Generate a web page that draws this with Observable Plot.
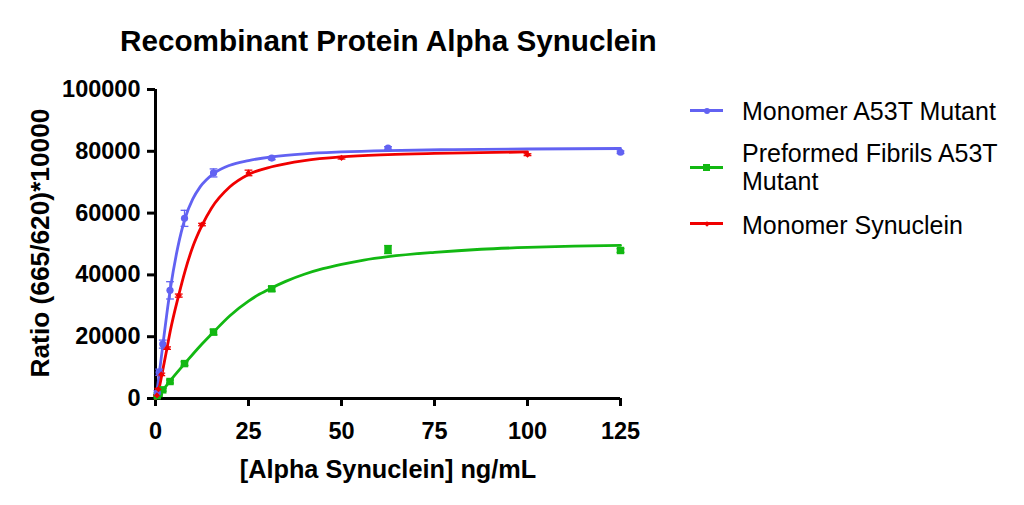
<!DOCTYPE html>
<html><head><meta charset="utf-8">
<script src="https://cdn.jsdelivr.net/npm/d3@7"></script>
<script src="https://cdn.jsdelivr.net/npm/@observablehq/plot@0.6"></script>
<style>
body{margin:0;background:#fff;}
#wrap{position:relative;width:1024px;height:505px;font-family:"Liberation Sans",Arial,sans-serif;color:#000;overflow:hidden;}
#chart{position:absolute;left:0;top:0;}
.t{position:absolute;white-space:nowrap;}
#title{left:120px;top:26px;font-size:29.7px;line-height:29.7px;font-weight:bold;}
#xlab{left:238px;top:457px;font-size:25.3px;line-height:25px;font-weight:bold;width:300px;text-align:center;}
#ylab{left:40px;top:243px;font-size:26.3px;line-height:26px;font-weight:bold;transform:translate(-50%,-50%) rotate(-90deg);}
.leg{position:absolute;left:742px;font-size:25px;line-height:28.5px;}
.sw{position:absolute;left:690px;width:33px;height:3px;}
.mk{position:absolute;}
</style></head><body>
<div id="wrap">
<div id="chart"></div>
<div class="t" id="title">Recombinant Protein Alpha Synuclein</div>
<div class="t" id="xlab">[Alpha Synuclein] ng/mL</div>
<div class="t" id="ylab">Ratio (665/620)*10000</div>
<div id="legend"></div>
</div>
<script>
// ---- data ----
const seriesNames = ["Monomer A53T Mutant", "Preformed Fibrils A53T Mutant", "Monomer Synuclein"];
const seriesColors = ["#6262f2", "#12b812", "#f00000"];

const blueX = [0.49, 0.98, 1.95, 3.9, 7.8, 15.6, 31.25, 62.5, 125];
const blueY = [1800, 8500, 17600, 35000, 58300, 73000, 77800, 81000, 79700];
const blueErr = [700, 1000, 1300, 2800, 2600, 1300, 500, 500, 400];

const greenX = [0.49, 0.98, 1.95, 3.9, 7.8, 15.6, 31.25, 62.5, 125];
const greenY = [900, 1600, 2800, 5500, 11300, 21500, 35500, 48200, 47900];
const greenErr = [300, 300, 400, 500, 600, 900, 800, 1300, 600];

const redX = [0.39, 0.78, 1.56, 3.125, 6.25, 12.5, 25, 50, 100];
const redY = [1000, 3000, 7800, 16300, 33300, 56300, 73000, 77900, 78900];
const redErr = [200, 300, 400, 400, 500, 400, 900, 400, 300];

// fitted curves
const blueCurveX = [0, 0.5, 1, 2, 3, 4, 6, 8, 10, 12, 15.6, 20, 25, 31.25, 40, 50, 62.5, 80, 100, 125];
const blueCurveY = [0, 3200, 8000, 17500, 27000, 35500, 49000, 58500, 64500, 68500, 72800, 75500, 77000, 78200, 79200, 79800, 80250, 80550, 80750, 80900];
const greenCurveX = [0, 1, 2, 4, 6, 8, 12, 15.6, 20, 25, 28, 31.25, 35, 40, 45, 50, 56, 62.5, 75, 87.5, 100, 112.5, 125];
const greenCurveY = [0, 1200, 2700, 5800, 8700, 11500, 17000, 21500, 26800, 31500, 33800, 35800, 37900, 40200, 42000, 43400, 44800, 45900, 47300, 48300, 48900, 49300, 49550];
const redCurveX = [0, 1, 2, 3.125, 4, 6.25, 8, 10, 12.5, 15, 20, 25, 31.25, 40, 50, 62.5, 75, 100];
const redCurveY = [0, 3500, 9500, 16500, 22000, 33500, 41500, 49000, 56000, 61500, 68500, 72500, 75000, 77000, 78200, 78900, 79300, 79800];

const xTicks = [0, 25, 50, 75, 100, 125];
const yTicks = [0, 20000, 40000, 60000, 80000, 100000];

// ---- build tables ----
const pts = (xs, ys, es, s) => xs.map((x, i) => ({x, y: ys[i], e: es[i], s}));
const crv = (xs, ys, s) => xs.map((x, i) => ({x, y: ys[i], s}));
const points = [
  ...pts(blueX, blueY, blueErr, seriesNames[0]),
  ...pts(greenX, greenY, greenErr, seriesNames[1]),
  ...pts(redX, redY, redErr, seriesNames[2])
];
const curves = [
  ...crv(blueCurveX, blueCurveY, seriesNames[0]),
  ...crv(greenCurveX, greenCurveY, seriesNames[1]),
  ...crv(redCurveX, redCurveY, seriesNames[2])
];
const colorOf = Object.fromEntries(seriesNames.map((n, i) => [n, seriesColors[i]]));
const hbar = {draw(ctx, size) { const w = Math.sqrt(size); ctx.moveTo(-w, 0); ctx.lineTo(w, 0); }};

const font = {fontFamily: "'Liberation Sans', Arial, sans-serif", fontWeight: "bold"};
const chart = Plot.plot({
  width: 660, height: 505,
  marginLeft: 155, marginRight: 40, marginTop: 89, marginBottom: 107,
  style: {...font, fontSize: "23px", background: "transparent", color: "#000"},
  x: {domain: [0, 125]},
  y: {domain: [0, 100000]},
  marks: [
    Plot.axisX({ticks: xTicks, tickSize: 8, tickPadding: 16, strokeWidth: 3, fontSize: 23.5, label: null, tickFormat: d => String(d)}),
    Plot.axisY({ticks: yTicks, tickSize: 8, tickPadding: 7, strokeWidth: 3, fontSize: 23.5, label: null, tickFormat: d => String(d)}),
    Plot.ruleY([0], {stroke: "#000", strokeWidth: 3}),
    Plot.ruleX([0], {stroke: "#000", strokeWidth: 3}),
    Plot.line(curves, {x: "x", y: "y", z: "s", stroke: d => colorOf[d.s], strokeWidth: 2.8, curve: "monotone-x"}),
    Plot.ruleX(points, {x: "x", y1: d => d.y - d.e, y2: d => d.y + d.e, stroke: d => colorOf[d.s], strokeWidth: 1.3}),
    Plot.dot(points, {x: "x", y: d => d.y + d.e, symbol: hbar, r: 2.2, stroke: d => colorOf[d.s], strokeWidth: 1.3, fill: "none"}),
    Plot.dot(points, {x: "x", y: d => d.y - d.e, symbol: hbar, r: 2.2, stroke: d => colorOf[d.s], strokeWidth: 1.3, fill: "none"}),
    Plot.dot(points.filter(d => d.s === seriesNames[1]), {x: "x", y: "y", symbol: "square", r: 4.2, fill: seriesColors[1], stroke: "none"}),
    Plot.dot(points.filter(d => d.s === seriesNames[0]), {x: "x", y: "y", symbol: "circle", r: 3.6, fill: seriesColors[0], stroke: "none"}),
    Plot.dot(points.filter(d => d.s === seriesNames[2]), {x: "x", y: "y", symbol: "diamond2", r: 2.8, fill: seriesColors[2], stroke: "none"})
  ]
});
document.getElementById("chart").appendChild(chart);

// ---- legend ----
const legend = document.getElementById("legend");
const legendItems = [
  {text: "Monomer A53T Mutant", top: 96.5, sw: 110.5, mk: "circle"},
  {text: "Preformed Fibrils A53T<br>Mutant", top: 138.5, sw: 167, mk: "square"},
  {text: "Monomer Synuclein", top: 210.5, sw: 223.5, mk: "diamond"}
];
legendItems.forEach((it, i) => {
  const c = seriesColors[i];
  const t = document.createElement("div"); t.className = "leg"; t.style.top = it.top + "px"; t.innerHTML = it.text; legend.appendChild(t);
  const s = document.createElement("div"); s.className = "sw"; s.style.top = (it.sw - 1.5) + "px"; s.style.background = c; legend.appendChild(s);
  const m = document.createElement("div"); m.className = "mk"; m.style.background = c;
  if (it.mk === "circle") { m.style.cssText += "width:6px;height:6px;border-radius:50%;left:703.5px;top:" + (it.sw - 3) + "px;"; }
  else if (it.mk === "square") { m.style.cssText += "width:7px;height:7px;left:703px;top:" + (it.sw - 3.5) + "px;"; }
  else { m.style.cssText += "width:4px;height:4px;transform:rotate(45deg);left:704.5px;top:" + (it.sw - 2) + "px;"; }
  legend.appendChild(m);
});
</script>
</body></html>
